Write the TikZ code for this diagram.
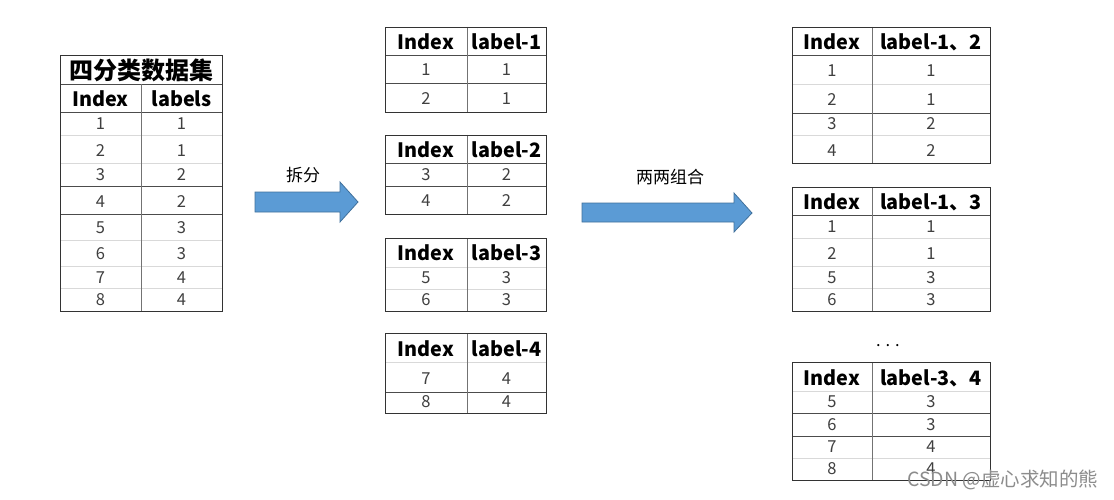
\documentclass[tikz,border=0pt]{standalone}
\usepackage{fontspec}
\setmainfont{Noto Sans CJK SC}
\definecolor{arrowblue}{HTML}{5B9BD5}
\definecolor{arrowedge}{HTML}{41719C}
\begin{document}
\begin{tikzpicture}[x=1pt,y=-1pt,
 border/.style={draw=black!80, line width=0.9pt},
 rowline/.style={draw=black!70, line width=0.7pt},
 lightline/.style={draw=black!15, line width=0.7pt},
 divline/.style={draw=black!55, line width=0.7pt},
 hdr/.style={font=\bfseries\fontsize{19.8}{19.8}\selectfont, text=black, inner sep=0pt},
 ttl/.style={font=\bfseries\fontsize{24}{24}\selectfont, text=black, inner sep=0pt},
 cell/.style={font=\fontsize{16.5}{16.5}\selectfont, text=black!75, inner sep=0pt},
 bigarrow/.style={fill=arrowblue, draw=arrowedge, line width=0.8pt},
 lbl/.style={font=\fontsize{17}{17}\selectfont, text=black, inner sep=0pt},
 wm/.style={font=\fontsize{19.5}{19.5}\selectfont, text=black!45, inner sep=0pt}]
\useasboundingbox (0,0) rectangle (1114,500);
\fill[white] (0,0) rectangle (1114,500);

% ---------- left table ----------
\draw[rowline] (60,84) -- (222,84);
\draw[rowline] (60,112) -- (222,112);
\foreach \y/\s in {135/lightline,163/lightline,186/rowline,214/rowline,240/lightline,266/lightline,288/lightline}
  \draw[\s] (60,\y) -- (222,\y);
\draw[divline] (141,84) -- (141,311);
\draw[border] (60,55) rectangle (222,311);
\node[ttl] (lt-title) at (141,70) {四分类数据集};
\node[hdr] (lt-h1) at (100.5,99) {Index};
\node[hdr] (lt-h2) at (181.5,99) {labels};
\foreach \a/\b/\y in {1/1/124,2/1/151,3/2/175,4/2/202,5/3/228,6/3/254,7/4/277.5,8/4/300}{
  \node[cell] (lt-i\a) at (100.5,\y) {\a};
  \node[cell] (lt-l\a) at (181.5,\y) {\b};
}

% ---------- middle tables ----------
% T1
\draw[rowline] (385,55) -- (546,55);
\draw[rowline] (385,83) -- (546,83);
\draw[divline] (467,27) -- (467,112);
\draw[border] (385,27) rectangle (546,112);
\node[hdr] (m1-h1) at (426,42) {Index};
\node[hdr] (m1-h2) at (506.5,42) {label-1};
\node[cell] (m1-i1) at (426,70) {1}; \node[cell] (m1-l1) at (506.5,70) {1};
\node[cell] (m1-i2) at (426,99) {2}; \node[cell] (m1-l2) at (506.5,99) {1};
% T2
\draw[rowline] (385,163) -- (546,163);
\draw[rowline] (385,186) -- (546,186);
\draw[divline] (467,135) -- (467,214);
\draw[border] (385,135) rectangle (546,214);
\node[hdr] (m2-h1) at (426,150) {Index};
\node[hdr] (m2-h2) at (506.5,150) {label-2};
\node[cell] (m2-i1) at (426,175) {3}; \node[cell] (m2-l1) at (506.5,175) {2};
\node[cell] (m2-i2) at (426,201) {4}; \node[cell] (m2-l2) at (506.5,201) {2};
% T3
\draw[lightline] (385,267) -- (546,267);
\draw[lightline] (385,289) -- (546,289);
\draw[divline] (467,238) -- (467,311);
\draw[border] (385,238) rectangle (546,311);
\node[hdr] (m3-h1) at (426,253) {Index};
\node[hdr] (m3-h2) at (506.5,253) {label-3};
\node[cell] (m3-i1) at (426,278) {5}; \node[cell] (m3-l1) at (506.5,278) {3};
\node[cell] (m3-i2) at (426,300) {6}; \node[cell] (m3-l2) at (506.5,300) {3};
% T4
\draw[lightline] (385,362) -- (546,362);
\draw[rowline] (385,392) -- (546,392);
\draw[divline] (467,333) -- (467,413);
\draw[border] (385,333) rectangle (546,413);
\node[hdr] (m4-h1) at (426,349) {Index};
\node[hdr] (m4-h2) at (506.5,349) {label-4};
\node[cell] (m4-i1) at (426,379) {7}; \node[cell] (m4-l1) at (506.5,379) {4};
\node[cell] (m4-i2) at (426,402) {8}; \node[cell] (m4-l2) at (506.5,402) {4};

% ---------- right tables ----------
% R1
\draw[rowline] (792,55) -- (990,55);
\foreach \y/\s in {84/lightline,113/rowline,135/lightline}
  \draw[\s] (792,\y) -- (990,\y);
\draw[divline] (872,27) -- (872,163);
\draw[border] (792,27) rectangle (990,163);
\node[hdr] (r1-h1) at (832,42) {Index};
\node[hdr] (r1-h2) at (931,42) {label-1、2};
\foreach \a/\b/\y/\k in {1/1/71/1,2/1/100/2,3/2/124/3,4/2/151/4}{
  \node[cell] (r1-i\k) at (832,\y) {\a};
  \node[cell] (r1-l\k) at (931,\y) {\b};
}
% R2
\draw[rowline] (792,215) -- (990,215);
\foreach \y/\s in {238/lightline,266/lightline,288/lightline}
  \draw[\s] (792,\y) -- (990,\y);
\draw[divline] (872,187) -- (872,311);
\draw[border] (792,187) rectangle (990,311);
\node[hdr] (r2-h1) at (832,202) {Index};
\node[hdr] (r2-h2) at (931,202) {label-1、3};
\foreach \a/\b/\y/\k in {1/1/227/1,2/1/254/2,5/3/277.5/3,6/3/300/4}{
  \node[cell] (r2-i\k) at (832,\y) {\a};
  \node[cell] (r2-l\k) at (931,\y) {\b};
}
% dots
\node[cell, text=black] (dots) at (888,346) {. . .};
% R3
\draw[lightline] (792,391) -- (990,391);
\foreach \y/\s in {413/rowline,436/rowline,458/lightline}
  \draw[\s] (792,\y) -- (990,\y);
\draw[divline] (872,362) -- (872,480);
\draw[border] (792,362) rectangle (990,480);
\node[hdr] (r3-h1) at (832,378) {Index};
\node[hdr] (r3-h2) at (931,378) {label-3、4};
\foreach \a/\b/\y/\k in {5/3/402/1,6/3/424.5/2,7/4/447/3,8/4/469/4}{
  \node[cell] (r3-i\k) at (832,\y) {\a};
  \node[cell] (r3-l\k) at (931,\y) {\b};
}

% ---------- arrows ----------
\draw[bigarrow] (255,192) -- (340,192) -- (340,182) -- (358,202) -- (340,222) -- (340,212) -- (255,212) -- cycle;
\node[lbl] (split) at (303,175) {拆分};
\draw[bigarrow] (582,203) -- (734,203) -- (734,193) -- (752,213) -- (734,232) -- (734,222) -- (582,222) -- cycle;
\node[lbl] (combine) at (670,177) {两两组合};

% watermark
\node[wm, anchor=west] (wmark) at (907,480) {CSDN @虚心求知的熊};
\end{tikzpicture}
\end{document}
